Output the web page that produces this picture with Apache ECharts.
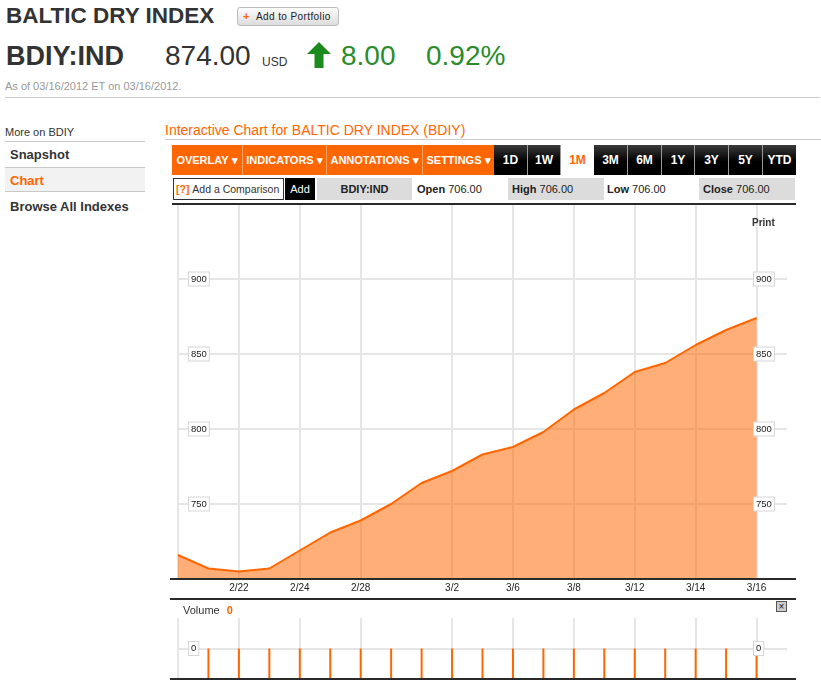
<!DOCTYPE html>
<html>
<head>
<meta charset="utf-8">
<script src="https://cdn.jsdelivr.net/npm/echarts@6/dist/echarts.min.js"></script>
<style>
  html, body { margin:0; padding:0; background:#fff; overflow:hidden; }
  body { width:821px; height:698px; position:relative; font-family:"Liberation Sans", Arial, sans-serif; color:#333; }
  .t { position:absolute; line-height:1; white-space:nowrap; }
  .hl { position:absolute; }
  .btn { position:absolute; top:145px; height:30px; display:flex; align-items:center; justify-content:center; font-weight:bold; font-size:11px; color:#fff; box-sizing:border-box; white-space:nowrap; }
  .or { background:#ff6600; border-right:1px solid #ffa366; }
  .bk { background:linear-gradient(#3a3a3a, #000 55%); border-right:1px solid #999; font-size:12px; }
  .box { position:absolute; top:178px; height:22px; display:flex; align-items:center; font-size:11px; box-sizing:border-box; white-space:nowrap; overflow:hidden; }
  #chart { position:absolute; left:0; top:0; width:821px; height:698px; z-index:1; }
  .frame { position:absolute; background:#2a2a2a; z-index:2; }
</style>
</head>
<body>
<!-- header -->
<div class="t" style="left:6px;top:5px;font-size:22.5px;font-weight:bold;color:#333;">BALTIC DRY INDEX</div>
<div style="position:absolute;left:237px;top:7px;width:102px;height:19px;box-sizing:border-box;border:1px solid #bbb;border-radius:3px;background:linear-gradient(#fdfdfd,#dcdcdc);">
  <span class="t" style="left:5px;top:3px;font-size:11px;font-weight:bold;color:#ff6600;">+</span>
  <span class="t" style="left:18px;top:4px;font-size:10px;letter-spacing:0.4px;color:#222;">Add to Portfolio</span>
</div>
<div class="t" style="left:6px;top:43px;font-size:27px;font-weight:bold;color:#333;">BDIY:IND</div>
<div class="t" style="left:165px;top:42px;font-size:28px;color:#333;">874.00</div>
<div class="t" style="left:262px;top:56px;font-size:12px;color:#333;">USD</div>
<svg style="position:absolute;left:307px;top:42px;" width="24" height="26" viewBox="0 0 24 26">
  <polygon points="12,0 24,12 16.5,12 16.5,26 7.5,26 7.5,12 0,12" fill="#1d8a1d"/>
</svg>
<div class="t" style="left:341px;top:42px;font-size:28px;color:#2a8c2a;">8.00</div>
<div class="t" style="left:426px;top:42px;font-size:28px;color:#2a8c2a;">0.92%</div>
<div class="t" style="left:5px;top:81px;font-size:11px;color:#999;">As of 03/16/2012 ET on 03/16/2012.</div>
<div class="hl" style="left:5px;top:97px;width:815px;height:1px;background:#ccc;"></div>

<!-- sidebar -->
<div class="t" style="left:5px;top:127px;font-size:11px;color:#333;">More on BDIY</div>
<div class="hl" style="left:5px;top:141px;width:140px;height:1px;background:#c8c8c8;"></div>
<div class="t" style="left:10px;top:148px;font-size:13px;font-weight:bold;color:#333;">Snapshot</div>
<div class="hl" style="left:5px;top:167px;width:140px;height:1px;background:#c8c8c8;"></div>
<div class="hl" style="left:5px;top:168px;width:140px;height:23px;background:#f2f2f2;"></div>
<div class="t" style="left:10px;top:174px;font-size:13px;font-weight:bold;color:#ff6600;">Chart</div>
<div class="hl" style="left:5px;top:191px;width:140px;height:1px;background:#c8c8c8;"></div>
<div class="t" style="left:10px;top:200px;font-size:13px;font-weight:bold;color:#333;">Browse All Indexes</div>

<!-- chart header -->
<div class="t" style="left:165px;top:123px;font-size:14px;color:#ff6600;">Interactive Chart for BALTIC DRY INDEX (BDIY)</div>
<div class="hl" style="left:165px;top:139px;width:656px;height:1px;background:#ccc;"></div>

<!-- toolbar -->
<div class="btn or" style="left:172px;width:71px;">OVERLAY&nbsp;▾</div>
<div class="btn or" style="left:243px;width:84px;">INDICATORS&nbsp;▾</div>
<div class="btn or" style="left:327px;width:96px;">ANNOTATIONS&nbsp;▾</div>
<div class="btn or" style="left:423px;width:71px;border-right:none;">SETTINGS&nbsp;▾</div>
<div class="btn bk" style="left:494px;width:34px;">1D</div>
<div class="btn bk" style="left:528px;width:33px;">1W</div>
<div class="btn" style="left:561px;width:33px;background:#fff;color:#ff6600;font-size:12px;">1M</div>
<div class="btn bk" style="left:594px;width:34px;">3M</div>
<div class="btn bk" style="left:628px;width:34px;">6M</div>
<div class="btn bk" style="left:662px;width:33px;">1Y</div>
<div class="btn bk" style="left:695px;width:34px;">3Y</div>
<div class="btn bk" style="left:729px;width:34px;">5Y</div>
<div class="btn bk" style="left:763px;width:33px;border-right:none;">YTD</div>

<!-- row 2 -->
<div class="box" style="left:173px;width:111px;border:1px solid #333;padding-left:2px;font-size:10.5px;"><span style="color:#ff6600;font-weight:bold;">[?]</span>&nbsp;Add a Comparison</div>
<div class="box" style="left:285px;width:30px;background:#000;color:#fff;justify-content:center;">Add</div>
<div class="box" style="left:317px;width:95px;background:#dcdcdc;justify-content:center;font-weight:bold;color:#222;">BDIY:IND</div>
<div class="box" style="left:417px;width:90px;color:#222;"><b>Open</b>&nbsp;706.00</div>
<div class="box" style="left:508px;width:96px;background:#dcdcdc;padding-left:4px;color:#222;"><b>High</b>&nbsp;706.00</div>
<div class="box" style="left:607px;width:90px;color:#222;"><b>Low</b>&nbsp;706.00</div>
<div class="box" style="left:699px;width:96px;background:#dcdcdc;padding-left:4px;color:#222;"><b>Close</b>&nbsp;706.00</div>

<!-- chart extras -->
<div class="t" style="left:752px;top:218px;font-size:10px;font-weight:bold;color:#333;z-index:3;">Print</div>
<div class="t" style="left:183px;top:605px;font-size:11px;color:#333;z-index:3;">Volume <b style="color:#ff6600;margin-left:4px;">0</b></div>
<div style="position:absolute;left:776px;top:601px;width:11px;height:11px;box-sizing:border-box;border:1px solid #555;background:#ccc;z-index:3;font-size:10px;line-height:9px;text-align:center;color:#222;">×</div>

<div id="chart"></div>

<div class="frame" style="left:172px;top:203px;width:624px;height:2px;"></div>
<div class="frame" style="left:170px;top:578px;width:626px;height:2px;"></div>
<div class="frame" style="left:170px;top:598px;width:626px;height:2px;"></div>
<div class="frame" style="left:170px;top:678px;width:626px;height:2px;"></div>

<script>
// ---- data ----
const dates = ['2/20','2/21','2/22','2/23','2/24','2/27','2/28','2/29','3/1','3/2',
               '3/5','3/6','3/7','3/8','3/9','3/12','3/13','3/14','3/15','3/16'];
const bdiClose = [716, 707, 705, 707, 719, 731, 739, 750, 764, 772,
                  783, 788, 798, 813, 824, 838, 844, 856, 866, 874];
const volume = [null, 0, 0, 0, 0, 0, 0, 0, 0, 0,
                0, 0, 0, 0, 0, 0, 0, 0, 0, 0];
const dateTickLabels = ['2/22','2/24','2/28','3/2','3/6','3/8','3/12','3/14','3/16'];

// ---- chart ----
const FONT = '"Liberation Sans", Arial, sans-serif';
const categories = dates.concat(['']);
const gridLineStyle = { color: '#e6e6e6', width: 2 };
const showGrid = (i, v) => i === 0 || dateTickLabels.indexOf(v) >= 0;
const boxLabel = {
  fontSize: 9.5, color: '#222', fontFamily: FONT,
  backgroundColor: '#fff', borderColor: '#d6d6d6', borderWidth: 1,
  padding: [2, 2, 1, 2], showMinLabel: false, showMaxLabel: false
};

const chart = echarts.init(document.getElementById('chart'), null, { renderer: 'canvas' });
chart.setOption({
  animation: false,
  backgroundColor: 'transparent',
  textStyle: { fontFamily: FONT },
  grid: [
    { left: 178, right: 34, top: 204, bottom: 119 },
    { left: 178, right: 34, top: 618, bottom: 19 }
  ],
  xAxis: [
    {
      type: 'category', gridIndex: 0, data: categories, boundaryGap: false,
      axisLine: { show: false }, axisTick: { show: false },
      axisLabel: {
        interval: (i, v) => dateTickLabels.indexOf(v) >= 0,
        fontSize: 10, color: '#222', margin: 4, fontFamily: FONT
      },
      splitLine: { show: true, interval: showGrid, lineStyle: gridLineStyle }
    },
    {
      type: 'category', gridIndex: 1, data: categories, boundaryGap: false,
      axisLine: { show: false }, axisTick: { show: false }, axisLabel: { show: false },
      splitLine: { show: true, interval: showGrid, lineStyle: gridLineStyle }
    }
  ],
  yAxis: [
    {
      type: 'value', gridIndex: 0, position: 'left', min: 700, max: 950, interval: 50,
      axisLine: { show: false }, axisTick: { show: false },
      axisLabel: Object.assign({ inside: true, margin: 11 }, boxLabel),
      splitLine: { show: true, lineStyle: gridLineStyle }
    },
    {
      type: 'value', gridIndex: 0, position: 'right', offset: -33, min: 700, max: 950, interval: 50,
      z: 10,
      axisLine: { show: false }, axisTick: { show: false },
      axisLabel: Object.assign({ inside: false, margin: 0 }, boxLabel),
      splitLine: { show: false }
    },
    {
      type: 'value', gridIndex: 1, position: 'left', min: -1, max: 1, interval: 1,
      axisLine: { show: false }, axisTick: { show: false },
      axisLabel: Object.assign({ inside: true, margin: 11 }, boxLabel),
      splitLine: { show: true, lineStyle: { color: ['rgba(0,0,0,0)', '#e6e6e6', 'rgba(0,0,0,0)'], width: 2 } }
    },
    {
      type: 'value', gridIndex: 1, position: 'right', offset: -33, min: -1, max: 1, interval: 1,
      z: 10,
      axisLine: { show: false }, axisTick: { show: false },
      axisLabel: Object.assign({ inside: false, margin: 0 }, boxLabel),
      splitLine: { show: false }
    }
  ],
  series: [
    {
      type: 'line', xAxisIndex: 0, yAxisIndex: 0, data: bdiClose,
      symbol: 'none', smooth: false,
      lineStyle: { color: '#ff6600', width: 2 },
      areaStyle: { color: '#ff6600', opacity: 0.53, origin: 'start' },
      z: 2
    },
    {
      type: 'custom', xAxisIndex: 1, yAxisIndex: 2,
      data: volume.map((v, i) => [i, v == null ? '-' : v]),
      encode: { x: 0, y: 1 },
      z: 2,
      renderItem: function (params, api) {
        const v = api.value(1);
        if (v == null || isNaN(v)) return null;
        const p = api.coord([api.value(0), v]);
        const bottom = params.coordSys.y + params.coordSys.height;
        return {
          type: 'line',
          shape: { x1: p[0], y1: p[1], x2: p[0], y2: bottom },
          style: { stroke: '#ff6600', lineWidth: 2 }
        };
      }
    }
  ]
});
</script>
</body>
</html>
